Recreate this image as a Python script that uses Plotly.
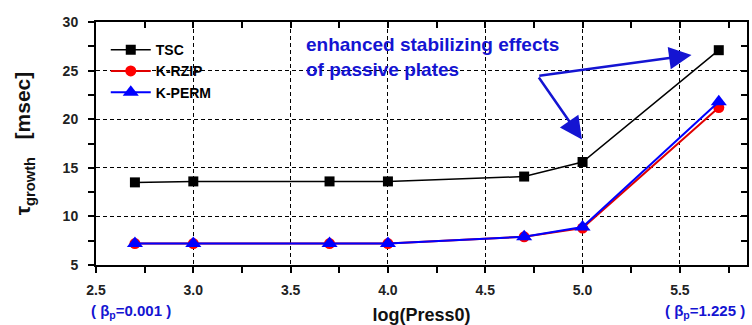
import plotly.graph_objects as go

x_vals = [2.7, 3.0, 3.7, 4.0, 4.7, 5.0, 5.7]
tsc = [13.5, 13.6, 13.6, 13.6, 14.1, 15.6, 27.1]
k_rzip = [7.2, 7.2, 7.2, 7.2, 7.9, 8.8, 21.2]
k_perm = [7.2, 7.2, 7.2, 7.2, 7.9, 8.9, 21.8]

x_range = [2.5, 5.845]
y_range = [5, 30]

FONT = "Liberation Sans"
BLUE = "#1414d2"

fig = go.Figure()
fig.add_trace(go.Scatter(x=x_vals, y=tsc, name="TSC", mode="lines+markers",
                         line=dict(color="black", width=1.5),
                         marker=dict(symbol="square", size=10, color="black")))
fig.add_trace(go.Scatter(x=x_vals, y=k_rzip, name="K-RZIP", mode="lines+markers",
                         line=dict(color="#e00000", width=2),
                         marker=dict(symbol="circle", size=11, color="#ff0000")))
fig.add_trace(go.Scatter(x=x_vals, y=k_perm, name="K-PERM", mode="lines+markers",
                         line=dict(color="#0000ff", width=2),
                         marker=dict(symbol="triangle-up", size=14, color="#0000ff")))
# invisible trace to anchor mirrored axes
fig.add_trace(go.Scatter(x=[x_range[0]], y=[y_range[0]], xaxis="x2", yaxis="y2",
                         mode="markers", marker=dict(opacity=0), showlegend=False,
                         hoverinfo="skip"))

tickfont = dict(family=FONT, size=14, color="#222222", weight="bold")
GRIDDASH = "4px,3px"
fig.update_layout(
    width=752, height=325,
    margin=dict(l=96, r=5, t=22, b=60),
    plot_bgcolor="white", paper_bgcolor="white",
    showlegend=True,
    legend=dict(x=0.015, y=0.95, xanchor="left", yanchor="top",
                bgcolor="rgba(0,0,0,0)",
                font=dict(family=FONT, size=14, color="black", weight="bold"),
                tracegroupgap=0, itemwidth=40),
    xaxis=dict(range=x_range, dtick=0.5, tick0=2.5, tickformat=".1f",
               showline=True, linecolor="black", linewidth=2,
               ticks="outside", ticklen=6, tickwidth=2, tickcolor="black",
               minor=dict(dtick=0.25, ticks="outside", ticklen=6, tickwidth=2, tickcolor="black", showgrid=False),
               showgrid=True, gridcolor="black", griddash=GRIDDASH, gridwidth=1,
               zeroline=False, tickfont=tickfont, ticklabelstandoff=5, automargin=False,
               title=dict(text="<b>log(Press0)</b>", font=dict(family=FONT, size=18, color="#111111", weight="bold"), standoff=12)),
    yaxis=dict(range=y_range, dtick=5, showline=True, linecolor="black", linewidth=2,
               ticks="outside", ticklen=6, tickwidth=2, tickcolor="black",
               minor=dict(dtick=2.5, ticks="outside", ticklen=6, tickwidth=2, tickcolor="black", showgrid=False),
               showgrid=True, gridcolor="black", griddash=GRIDDASH, gridwidth=1,
               zeroline=False, tickfont=tickfont, ticklabelstandoff=7, automargin=False,
               title=dict(text="<b>τ<sub>growth</sub>   [msec]</b>", font=dict(family=FONT, size=21, color="#111111", weight="bold"), standoff=26)),
    xaxis2=dict(range=x_range, overlaying="x", side="top", anchor="y",
                dtick=0.5, tick0=2.5, showticklabels=False, showgrid=False, zeroline=False,
                showline=True, linecolor="black", linewidth=2, automargin=False,
                ticks="inside", ticklen=6, tickwidth=2, tickcolor="black",
                minor=dict(dtick=0.25, ticks="inside", ticklen=6, tickwidth=2, tickcolor="black")),
    yaxis2=dict(range=y_range, overlaying="y", side="right", anchor="x",
                dtick=5, showticklabels=False, showgrid=False, zeroline=False,
                showline=True, linecolor="black", linewidth=2, automargin=False,
                ticks="inside", ticklen=6, tickwidth=2, tickcolor="black",
                minor=dict(dtick=2.5, ticks="inside", ticklen=6, tickwidth=2, tickcolor="black")),
)

# Annotation text
fig.add_annotation(x=0.32, y=0.96, xref="paper", yref="paper", xanchor="left", yanchor="top",
                   text="<b>enhanced stabilizing effects<br>of passive plates</b>",
                   align="left", showarrow=False,
                   font=dict(family=FONT, size=19, color=BLUE, weight="bold"))
# Arrows from common vertex
vx, vy = 4.77, 24.45
for hx, hy in [(5.56, 26.6), (4.997, 17.9)]:
    fig.add_annotation(x=hx, y=hy, ax=vx, ay=vy, xref="x", yref="y", axref="x", ayref="y",
                       showarrow=True, arrowhead=2, arrowsize=1.8, arrowwidth=2.5,
                       arrowcolor=BLUE, text="")

# beta annotations
fig.add_annotation(x=-0.01, y=-0.192, xref="paper", yref="paper", xanchor="left", yanchor="middle",
                   text="<b>( β<sub>p</sub>=0.001 )</b>", showarrow=False,
                   font=dict(family=FONT, size=15, color=BLUE, weight="bold"))
fig.add_annotation(x=1.0, y=-0.192, xref="paper", yref="paper", xanchor="right", yanchor="middle",
                   text="<b>( β<sub>p</sub>=1.225 )</b>", showarrow=False,
                   font=dict(family=FONT, size=15, color=BLUE, weight="bold"))

fig.write_html("out.html")
